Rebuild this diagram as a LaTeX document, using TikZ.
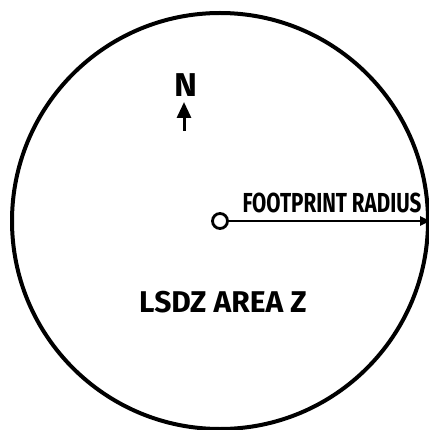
\documentclass[tikz,border=0pt]{standalone}
\usepackage{fontspec}
\setmainfont{Fira Sans}
\usetikzlibrary{arrows.meta, positioning}

\begin{document}
\begin{tikzpicture}[
    x=1pt, y=-1pt,
    zone/.style={circle, draw=black, line width=4pt, minimum size=416pt, inner sep=0pt},
    hub/.style={circle, draw=black, line width=2.8pt, minimum size=15pt, inner sep=0pt},
    stencil/.style={font=\bfseries\fontsize{#1}{#1}\selectfont, inner sep=0pt, transform shape},
    pointer/.style={line width=2.8pt, -{Triangle[length=10pt, width=9pt]}},
    northarrow/.style={line width=3pt, -{Triangle[length=16pt, width=14pt]}}
]
\useasboundingbox (0,0) rectangle (428,430);

% Nodes
\node (area) [zone] at (220,221) {};
\node (hub) [hub] at (220,221) {};

\node (north) [stencil=33, xscale=1.05] at (186,85) {N};
\coordinate (ntail) at (184,131);
\coordinate (nhead) at (184,102);

\node (radius) [stencil=27.5, xscale=0.75] at (332,203) {FOOTPRINT RADIUS};
\node (name) [stencil=30, xscale=1.0] at (223,302) {LSDZ AREA Z};

% Arrows
\draw [pointer] (hub.east) -- (area.east);
\draw [northarrow] (ntail) -- (nhead);

\end{tikzpicture}
\end{document}
